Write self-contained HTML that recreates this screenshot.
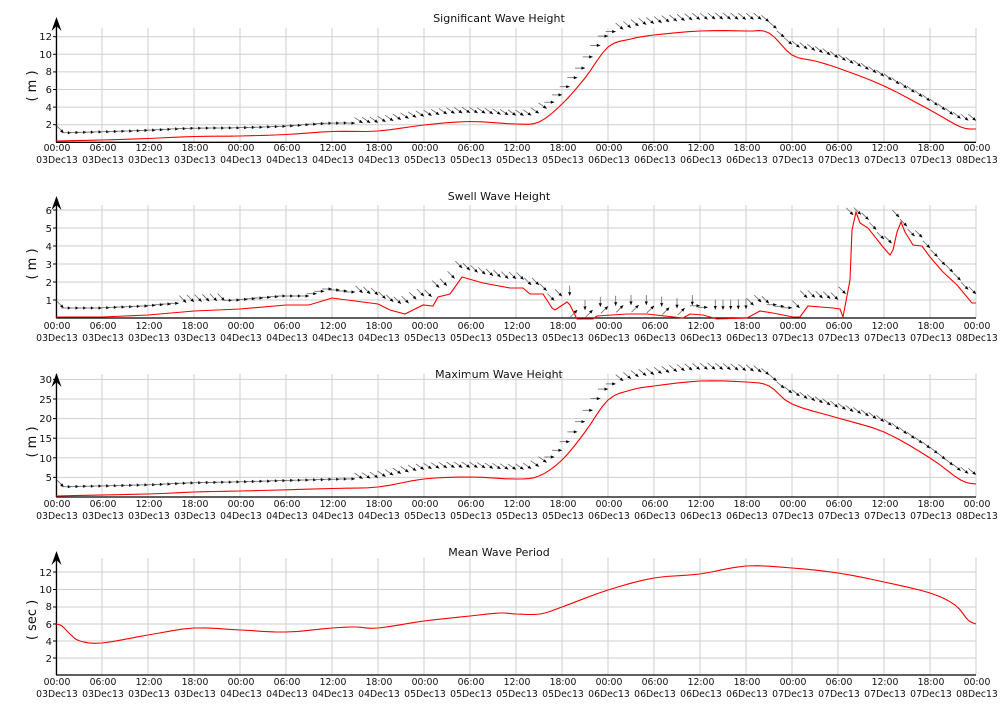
<!DOCTYPE html>
<html><head><meta charset="utf-8"><style>
body{margin:0;background:#fff;width:1000px;height:720px;overflow:hidden;position:relative;font-family:"DejaVu Sans","Liberation Sans",sans-serif;color:#111}
svg{position:absolute;left:0;top:0}
.row{position:absolute;left:34px;width:966px;display:flex;font-size:9.3px;line-height:12px}
.row span{flex:1;text-align:center;white-space:nowrap}
</style></head><body>
<svg id="s" width="1000" height="720" xmlns="http://www.w3.org/2000/svg" font-family="DejaVu Sans, Liberation Sans, sans-serif">
<g font-size="11" text-anchor="middle" fill="#111">
<text x="499" y="22">Significant Wave Height</text>
<text x="499" y="200">Swell Wave Height</text>
<text x="499" y="378">Maximum Wave Height</text>
<text x="499" y="556">Mean Wave Period</text>
</g>
<g font-size="13" text-anchor="middle" fill="#111">
<text transform="translate(36,86) rotate(-90)">( m )</text>
<text transform="translate(36,264) rotate(-90)">( m )</text>
<text transform="translate(36,442) rotate(-90)">( m )</text>
<text transform="translate(36,620) rotate(-90)">( sec )</text>
</g>
<g font-size="10" text-anchor="end" fill="#111">
<text x="52" y="128">2</text><text x="52" y="111">4</text><text x="52" y="93">6</text><text x="52" y="75">8</text><text x="52" y="58">10</text><text x="52" y="40">12</text>
<text x="52" y="304">1</text><text x="52" y="286">2</text><text x="52" y="268">3</text><text x="52" y="250">4</text><text x="52" y="232">5</text><text x="52" y="214">6</text>
<text x="52" y="481">5</text><text x="52" y="462">10</text><text x="52" y="442">15</text><text x="52" y="422">20</text><text x="52" y="403">25</text><text x="52" y="383">30</text>
<text x="52" y="662">2</text><text x="52" y="645">4</text><text x="52" y="628">6</text><text x="52" y="610">8</text><text x="52" y="593">10</text><text x="52" y="576">12</text>
</g>
</svg>
<div class="row" style="top:143px"><span>00:00</span><span>06:00</span><span>12:00</span><span>18:00</span><span>00:00</span><span>06:00</span><span>12:00</span><span>18:00</span><span>00:00</span><span>06:00</span><span>12:00</span><span>18:00</span><span>00:00</span><span>06:00</span><span>12:00</span><span>18:00</span><span>00:00</span><span>06:00</span><span>12:00</span><span>18:00</span><span>00:00</span></div>
<div class="row" style="top:155px"><span>03Dec13</span><span>03Dec13</span><span>03Dec13</span><span>03Dec13</span><span>04Dec13</span><span>04Dec13</span><span>04Dec13</span><span>04Dec13</span><span>05Dec13</span><span>05Dec13</span><span>05Dec13</span><span>05Dec13</span><span>06Dec13</span><span>06Dec13</span><span>06Dec13</span><span>06Dec13</span><span>07Dec13</span><span>07Dec13</span><span>07Dec13</span><span>07Dec13</span><span>08Dec13</span></div>
<div class="row" style="top:321px"><span>00:00</span><span>06:00</span><span>12:00</span><span>18:00</span><span>00:00</span><span>06:00</span><span>12:00</span><span>18:00</span><span>00:00</span><span>06:00</span><span>12:00</span><span>18:00</span><span>00:00</span><span>06:00</span><span>12:00</span><span>18:00</span><span>00:00</span><span>06:00</span><span>12:00</span><span>18:00</span><span>00:00</span></div>
<div class="row" style="top:333px"><span>03Dec13</span><span>03Dec13</span><span>03Dec13</span><span>03Dec13</span><span>04Dec13</span><span>04Dec13</span><span>04Dec13</span><span>04Dec13</span><span>05Dec13</span><span>05Dec13</span><span>05Dec13</span><span>05Dec13</span><span>06Dec13</span><span>06Dec13</span><span>06Dec13</span><span>06Dec13</span><span>07Dec13</span><span>07Dec13</span><span>07Dec13</span><span>07Dec13</span><span>08Dec13</span></div>
<div class="row" style="top:499px"><span>00:00</span><span>06:00</span><span>12:00</span><span>18:00</span><span>00:00</span><span>06:00</span><span>12:00</span><span>18:00</span><span>00:00</span><span>06:00</span><span>12:00</span><span>18:00</span><span>00:00</span><span>06:00</span><span>12:00</span><span>18:00</span><span>00:00</span><span>06:00</span><span>12:00</span><span>18:00</span><span>00:00</span></div>
<div class="row" style="top:511px"><span>03Dec13</span><span>03Dec13</span><span>03Dec13</span><span>03Dec13</span><span>04Dec13</span><span>04Dec13</span><span>04Dec13</span><span>04Dec13</span><span>05Dec13</span><span>05Dec13</span><span>05Dec13</span><span>05Dec13</span><span>06Dec13</span><span>06Dec13</span><span>06Dec13</span><span>06Dec13</span><span>07Dec13</span><span>07Dec13</span><span>07Dec13</span><span>07Dec13</span><span>08Dec13</span></div>
<div class="row" style="top:677px"><span>00:00</span><span>06:00</span><span>12:00</span><span>18:00</span><span>00:00</span><span>06:00</span><span>12:00</span><span>18:00</span><span>00:00</span><span>06:00</span><span>12:00</span><span>18:00</span><span>00:00</span><span>06:00</span><span>12:00</span><span>18:00</span><span>00:00</span><span>06:00</span><span>12:00</span><span>18:00</span><span>00:00</span></div>
<div class="row" style="top:689px"><span>03Dec13</span><span>03Dec13</span><span>03Dec13</span><span>03Dec13</span><span>04Dec13</span><span>04Dec13</span><span>04Dec13</span><span>04Dec13</span><span>05Dec13</span><span>05Dec13</span><span>05Dec13</span><span>05Dec13</span><span>06Dec13</span><span>06Dec13</span><span>06Dec13</span><span>06Dec13</span><span>07Dec13</span><span>07Dec13</span><span>07Dec13</span><span>07Dec13</span><span>08Dec13</span></div>
<script>
var S=document.getElementById('s'),NS='http://www.w3.org/2000/svg';
function el(t,a){var e=document.createElementNS(NS,t);for(var k in a)e.setAttribute(k,a[k]);S.appendChild(e);return e;}
function X(h){return 56+h*920/120;}
function interp(p,x){for(var i=1;i<p.length;i++){if(x<=p[i][0]){var a=p[i-1],b=p[i];return a[1]+(b[1]-a[1])*(x-a[0])/(b[0]-a[0]);}}return p[p.length-1][1];}
function smooth(p){var o=[];for(var i=0;i<p.length-1;i++){var p0=p[Math.max(0,i-1)],p1=p[i],p2=p[i+1],p3=p[Math.min(p.length-1,i+2)];for(var t=0;t<1;t+=0.25){var t2=t*t,t3=t2*t;function cr(a,b,c,d){return 0.5*((2*b)+(-a+c)*t+(2*a-5*b+4*c-d)*t2+(-a+3*b-3*c+d)*t3);}o.push([cr(p0[0],p1[0],p2[0],p3[0]),cr(p0[1],p1[1],p2[1],p3[1])]);}}o.push(p[p.length-1]);return o;}
function pts(p){return p.map(function(q){return q[0].toFixed(1)+','+q[1].toFixed(1)}).join(' ');}
function hp(a){return a.map(function(q){return [X(q[0]),q[1]]});}
var panels=[
 {top:28,bot:142.3,ticks:[124.7,107.1,89.5,71.9,54.3,36.7],ax:17},
 {top:205,bot:318,ticks:[300,282,264,246,228,210],ax:196},
 {top:374,bot:497,ticks:[477.4,457.8,438.2,418.6,399,379.4],ax:373},
 {top:558,bot:675,ticks:[658,641,624,607,589.5,572],ax:551}];
panels.forEach(function(P){
 for(var i=0;i<=20;i++){var x=56+46*i;el('line',{x1:x,y1:P.top,x2:x,y2:P.bot,stroke:'#cfcfcf','stroke-width':1});}
 P.ticks.forEach(function(y){el('line',{x1:56,y1:y,x2:976,y2:y,stroke:'#cfcfcf','stroke-width':1});el('line',{x1:53,y1:y,x2:57,y2:y,stroke:'#000'});});
 el('line',{x1:56,y1:P.bot,x2:976,y2:P.bot,stroke:'#000','stroke-width':1.3});
 el('line',{x1:56.5,y1:P.ax+2,x2:56.5,y2:P.bot,stroke:'#000','stroke-width':1.3});
 el('polygon',{points:'56.5,'+P.ax+' 51.5,'+(P.ax+14)+' 56.5,'+(P.ax+9)+' 61.5,'+(P.ax+14),fill:'#000'});
});
var r1=hp([[0,141],[6,140],[12,138.5],[18,136.5],[24,136],[30,134.5],[36,131.5],[42,131],[48,125],[54,121.5],[60,124],[63,122],[66,104],[69,78],[72,47],[75,39],[78,35],[84,31],[90,31],[93,33],[96,55],[99,61],[102,68],[108,86],[114,110],[118,127],[120,129]]);
var r2=[[56,317],[102,317],[148,315],[194,311],[240,309],[286,305],[309,305],[332,298],[378,304],[390,310],[405,314],[413,310],[423,305],[433,306],[438,297],[450,294],[455,287],[462,277],[469,279],[483,283],[510,288],[523,288],[530,294],[543,294],[552,308],[555,310],[567,302],[570,305],[577,319],[593,319],[597,316],[627,314],[647,314],[683,318],[690,314],[703,315],[717,319],[747,318],[760,311],[773,313],[793,317],[800,317],[808,306],[833,308],[840,309],[843,317],[850,280],[852,230],[856,212],[860,223],[868,228],[883,247],[890,255],[893,250],[897,232],[901,222],[905,232],[913,245],[922,246],[930,257],[943,272],[957,285],[972,303],[976,303]];
var r3=hp([[0,496],[12,494],[18,492],[24,491],[36,488.5],[42,487],[48,479],[54,477],[60,479],[63,476],[66,460],[69,432],[72,400],[75,390],[78,386],[84,381],[90,382],[93,386],[96,404],[102,418],[108,432],[114,458],[118,480],[120,484]]);
var r4=[[56,624],[62,626],[70,634],[80,641],[102,643],[148,635],[194,628],[240,630],[286,632],[332,628],[356,627],[378,628],[424,621],[470,616],[500,613],[516,614],[540,614],[562,607],[608,590],[654,578],[700,574],[746,566],[792,568],[838,573],[884,582],[930,593],[955,605],[968,620],[976,624]];
r1=smooth(r1);r3=smooth(r3);r4=smooth(r4);
function d1(h){return h<2?45:h<40?0:h<65?35:h<74?0:40;}
function d2(h){return h<2?45:h<17?0:h<23?45:h<40?0:h<67?45:h<84?(h%2?90:-45):h<86?0:h<91?90:h<94?45:h<97?0:45;}
function arrows(red,bf,df){
 for(var h=1;h<=120;h++){var x=X(h),ry=interp(red,x),y=bf(ry),a=df(h)*Math.PI/180,c=Math.cos(a),s=Math.sin(a);
  var tx=x-10*c,ty=y-10*s;
  el('line',{x1:tx.toFixed(1),y1:ty.toFixed(1),x2:x.toFixed(1),y2:y.toFixed(1),stroke:'#666','stroke-width':0.8});
  var bx=x-3.5*c,by=y-3.5*s,px=-s*1.6,py=c*1.6;
  el('polygon',{points:x.toFixed(1)+','+y.toFixed(1)+' '+(bx+px).toFixed(1)+','+(by+py).toFixed(1)+' '+(bx-px).toFixed(1)+','+(by-py).toFixed(1),fill:'#000'});
 }}
arrows(r1,function(y){return y-8-(142-y)*0.03;},d1);
arrows(r2,function(y){return y-9;},d2);
arrows(r3,function(y){return y-9-(497-y)*0.02;},d1);
[r1,r2,r3,r4].forEach(function(r){el('polyline',{points:pts(r),fill:'none',stroke:'#f00','stroke-width':1.1});});
</script>
</body></html>
